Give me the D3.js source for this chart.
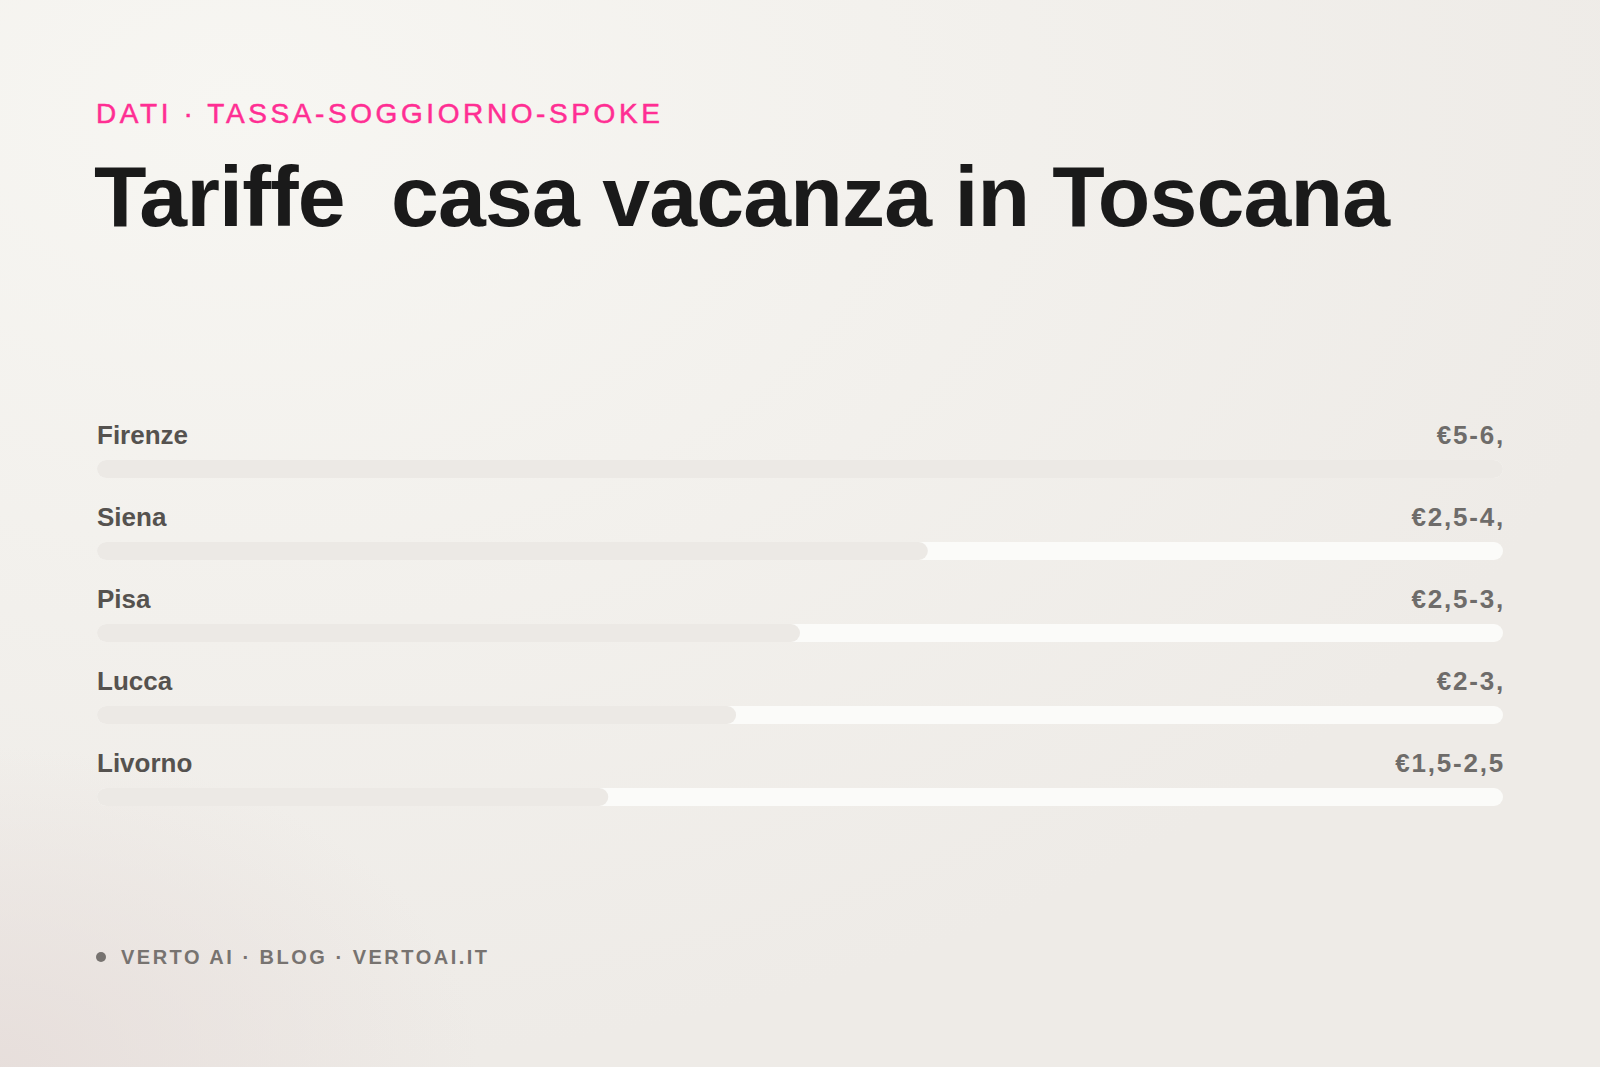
<!DOCTYPE html>
<html>
<head>
<meta charset="utf-8">
<script src="https://cdn.jsdelivr.net/npm/d3@7"></script>
<style>
    html, body { margin: 0; padding: 0; background: #f2f0ec; }
    svg { display: block; }
</style>
</head>
<body>
<svg class="chart"></svg>
<script>
// tourist tax ranges per city (euro per night)
var cities = ['Firenze', 'Siena', 'Pisa', 'Lucca', 'Livorno'];
var rateLow = [5, 2.5, 2.5, 2, 1.5];
var rateHigh = [6, 4, 3, 3, 2.5];
var rateLabels = ['€5-6,', '€2,5-4,', '€2,5-3,', '€2-3,', '€1,5-2,5'];

var kicker = 'DATI · TASSA-SOGGIORNO-SPOKE';
var title = 'Tariffe\u00a0 casa vacanza in Toscana';
var footer = 'VERTO AI · BLOG · VERTOAI.IT';

(function () {
    var width = 1600, height = 1067;
    var left = 97, right = 1503;

    var rows = cities.map(function (c, i) {
        return { city: c, mid: (rateLow[i] + rateHigh[i]) / 2, label: rateLabels[i] };
    });

    var svg = d3.select('.chart')
        .attr('width', width)
        .attr('height', height);

    // background: warm paper with soft glows
    var defs = svg.append('defs');
    var g1 = defs.append('radialGradient').attr('id', 'glowTL')
        .attr('cx', 0.15).attr('cy', 0.1).attr('r', 0.9);
    g1.append('stop').attr('offset', 0).attr('stop-color', '#f7f6f2');
    g1.append('stop').attr('offset', 1).attr('stop-color', '#eeebe7');

    var g2 = defs.append('radialGradient').attr('id', 'glowBL')
        .attr('cx', 0).attr('cy', 1).attr('r', 0.3);
    g2.append('stop').attr('offset', 0).attr('stop-color', '#e6ddda').attr('stop-opacity', 0.9);
    g2.append('stop').attr('offset', 1).attr('stop-color', '#e6ddda').attr('stop-opacity', 0);

    svg.append('rect').attr('width', width).attr('height', height).attr('fill', 'url(#glowTL)');
    svg.append('rect').attr('width', width).attr('height', height).attr('fill', 'url(#glowBL)');

    // header
    svg.append('text')
        .attr('x', 96).attr('y', 123)
        .style('font-family', 'Liberation Sans, Arial, sans-serif')
        .style('font-size', '28px')
        .style('letter-spacing', '3.6px')
        .style('fill', '#ff2e93')
        .style('stroke', '#ff2e93')
        .style('stroke-width', '0.5px')
        .text(kicker);

    svg.append('text')
        .attr('x', 94).attr('y', 226)
        .style('font-family', 'Liberation Sans, Arial, sans-serif')
        .style('font-weight', 'bold')
        .style('font-size', '86px')
        .style('letter-spacing', '-0.8px')
        .style('fill', '#1a1a1a')
        .text(title);

    // scales
    var x = d3.scaleLinear()
        .domain([0, d3.max(rows, function (d) { return d.mid; })])
        .range([left, right]);

    var y = d3.scaleBand()
        .domain(cities)
        .range([406, 406 + 82 * cities.length]);

    var barH = 18;

    var row = svg.selectAll('.row')
        .data(rows)
        .enter().append('g')
            .attr('class', 'row')
            .attr('transform', function (d) { return 'translate(0,' + y(d.city) + ')'; });

    row.append('text')
        .attr('x', left).attr('y', 38)
        .style('font-family', 'Liberation Sans, Arial, sans-serif')
        .style('font-weight', 'bold')
        .style('font-size', '26px')
        .style('fill', '#55524f')
        .text(function (d) { return d.city; });

    row.append('text')
        .attr('x', right + 2).attr('y', 38)
        .attr('text-anchor', 'end')
        .style('font-family', 'Liberation Sans, Arial, sans-serif')
        .style('font-weight', 'bold')
        .style('font-size', '26px')
        .style('letter-spacing', '1.8px')
        .style('fill', '#6e6c6a')
        .text(function (d) { return d.label; });

    // track
    row.append('rect')
        .attr('x', left).attr('y', 54)
        .attr('width', right - left).attr('height', barH)
        .attr('rx', barH / 2)
        .attr('fill', '#fbfbf9');

    // value
    row.append('rect')
        .attr('x', left).attr('y', 54)
        .attr('width', function (d) { return x(d.mid) - left; })
        .attr('height', barH)
        .attr('rx', barH / 2)
        .attr('fill', '#ece9e5');

    // footer
    svg.append('circle')
        .attr('cx', 101).attr('cy', 957).attr('r', 5)
        .attr('fill', '#777370');

    svg.append('text')
        .attr('x', 121).attr('y', 964)
        .style('font-family', 'Liberation Sans, Arial, sans-serif')
        .style('font-size', '20px')
        .style('font-weight', 'bold')
        .style('letter-spacing', '2.5px')
        .style('fill', '#777370')
        .text(footer);
}());
</script>
</body>
</html>
